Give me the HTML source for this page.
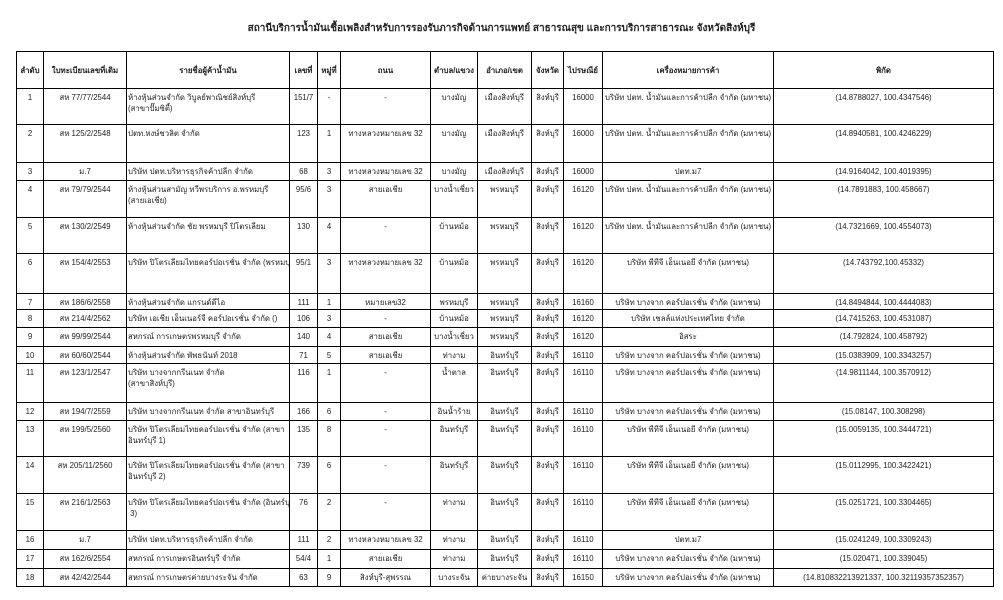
<!DOCTYPE html>
<html><head><meta charset="utf-8"><style>
body{margin:0;width:1003px;height:600px;background:#fff;position:relative;overflow:hidden;font-family:"Liberation Sans","DejaVu Sans",sans-serif;color:#222}
.t{position:absolute;left:0;width:1003px;top:21px;text-align:center;font-size:10px;font-weight:bold}
table{position:absolute;left:16px;top:51px;border-collapse:collapse;table-layout:fixed;width:977px;font-size:7.8px}
td,th{border:1px solid #000;padding:3px 1px 0 1px;vertical-align:top;text-align:center;line-height:11px;overflow:hidden;white-space:nowrap;font-weight:normal}
th{vertical-align:middle;padding:0 1px;font-weight:bold}
td.l{text-align:left}
</style></head><body>
<div class="t">สถานีบริการน้ำมันเชื้อเพลิงสำหรับการรองรับภารกิจด้านการแพทย์ สาธารณสุข และการบริการสาธารณะ จังหวัดสิงห์บุรี</div>
<table>
<colgroup><col style="width:27px"><col style="width:83px"><col style="width:163px"><col style="width:28px"><col style="width:23px"><col style="width:90px"><col style="width:47px"><col style="width:54px"><col style="width:32px"><col style="width:39px"><col style="width:171px"><col style="width:220px"></colgroup>
<tr style="height:37px"><th>ลำดับ</th><th>ใบทะเบียนเลขที่เดิม</th><th>รายชื่อผู้ค้าน้ำมัน</th><th>เลขที่</th><th>หมู่ที่</th><th>ถนน</th><th>ตำบล/แขวง</th><th>อำเภอ/เขต</th><th>จังหวัด</th><th>ไปรษณีย์</th><th>เครื่องหมายการค้า</th><th>พิกัด</th></tr>
<tr style="height:36px"><td>1</td><td>สห 77/77/2544</td><td class="l">ห้างหุ้นส่วนจำกัด วิบูลย์พาณิชย์สิงห์บุรี<br>(สาขาปั๊มซิตี้)</td><td>151/7</td><td>-</td><td>-</td><td>บางมัญ</td><td>เมืองสิงห์บุรี</td><td>สิงห์บุรี</td><td>16000</td><td>บริษัท ปตท. น้ำมันและการค้าปลีก จำกัด (มหาชน)</td><td>(14.8788027, 100.4347546)</td></tr>
<tr style="height:38px"><td>2</td><td>สห 125/2/2548</td><td class="l">ปตท.หงษ์ชวลิต จำกัด</td><td>123</td><td>1</td><td>ทางหลวงหมายเลข 32</td><td>บางมัญ</td><td>เมืองสิงห์บุรี</td><td>สิงห์บุรี</td><td>16000</td><td>บริษัท ปตท. น้ำมันและการค้าปลีก จำกัด (มหาชน)</td><td>(14.8940581, 100.4246229)</td></tr>
<tr style="height:18px"><td>3</td><td>ม.7</td><td class="l">บริษัท ปตท.บริหารธุรกิจค้าปลีก จำกัด</td><td>68</td><td>3</td><td>ทางหลวงหมายเลข 32</td><td>บางมัญ</td><td>เมืองสิงห์บุรี</td><td>สิงห์บุรี</td><td>16000</td><td>ปตท.ม7</td><td>(14.9164042, 100.4019395)</td></tr>
<tr style="height:37px"><td>4</td><td>สห 79/79/2544</td><td class="l">ห้างหุ้นส่วนสามัญ ทวีพรบริการ อ.พรหมบุรี<br>(สายเอเชีย)</td><td>95/6</td><td>3</td><td>สายเอเชีย</td><td>บางน้ำเชี่ยว</td><td>พรหมบุรี</td><td>สิงห์บุรี</td><td>16120</td><td>บริษัท ปตท. น้ำมันและการค้าปลีก จำกัด (มหาชน)</td><td>(14.7891883, 100.458667)</td></tr>
<tr style="height:36px"><td>5</td><td>สห 130/2/2549</td><td class="l">ห้างหุ้นส่วนจำกัด ชัย พรหมบุรี ปิโตรเลียม</td><td>130</td><td>4</td><td>-</td><td>บ้านหม้อ</td><td>พรหมบุรี</td><td>สิงห์บุรี</td><td>16120</td><td>บริษัท ปตท. น้ำมันและการค้าปลีก จำกัด (มหาชน)</td><td>(14.7321669, 100.4554073)</td></tr>
<tr style="height:40px"><td>6</td><td>สห 154/4/2553</td><td class="l">บริษัท ปิโตรเลียมไทยคอร์ปอเรชั่น จำกัด (พรหมบุรี)</td><td>95/1</td><td>3</td><td>ทางหลวงหมายเลข 32</td><td>บ้านหม้อ</td><td>พรหมบุรี</td><td>สิงห์บุรี</td><td>16120</td><td>บริษัท พีทีจี เอ็นเนอยี จำกัด (มหาชน)</td><td>(14.743792,100.45332)</td></tr>
<tr style="height:16px"><td>7</td><td>สห 186/6/2558</td><td class="l">ห้างหุ้นส่วนจำกัด แกรนด์ดีไอ</td><td>111</td><td>1</td><td>หมายเลข32</td><td>พรหมบุรี</td><td>พรหมบุรี</td><td>สิงห์บุรี</td><td>16160</td><td>บริษัท บางจาก คอร์ปอเรชั่น จำกัด (มหาชน)</td><td>(14.8494844, 100.4444083)</td></tr>
<tr style="height:18px"><td>8</td><td>สห 214/4/2562</td><td class="l">บริษัท เอเชีย เอ็นเนอร์จี คอร์ปอเรชั่น จำกัด ()</td><td>106</td><td>3</td><td>-</td><td>บ้านหม้อ</td><td>พรหมบุรี</td><td>สิงห์บุรี</td><td>16120</td><td>บริษัท เชลล์แห่งประเทศไทย จำกัด</td><td>(14.7415263, 100.4531087)</td></tr>
<tr style="height:19px"><td>9</td><td>สห 99/99/2544</td><td class="l">สหกรณ์ การเกษตรพรหมบุรี จำกัด</td><td>140</td><td>4</td><td>สายเอเชีย</td><td>บางน้ำเชี่ยว</td><td>พรหมบุรี</td><td>สิงห์บุรี</td><td>16120</td><td>อิสระ</td><td>(14.792824, 100.458792)</td></tr>
<tr style="height:17px"><td>10</td><td>สห 60/60/2544</td><td class="l">ห้างหุ้นส่วนจำกัด พัพธนันท์ 2018</td><td>71</td><td>5</td><td>สายเอเชีย</td><td>ท่างาม</td><td>อินทร์บุรี</td><td>สิงห์บุรี</td><td>16110</td><td>บริษัท บางจาก คอร์ปอเรชั่น จำกัด (มหาชน)</td><td>(15.0383909, 100.3343257)</td></tr>
<tr style="height:39px"><td>11</td><td>สห 123/1/2547</td><td class="l">บริษัท บางจากกรีนเนท จำกัด<br>(สาขาสิงห์บุรี)</td><td>116</td><td>1</td><td>-</td><td>น้ำตาล</td><td>อินทร์บุรี</td><td>สิงห์บุรี</td><td>16110</td><td>บริษัท บางจาก คอร์ปอเรชั่น จำกัด (มหาชน)</td><td>(14.9811144, 100.3570912)</td></tr>
<tr style="height:18px"><td>12</td><td>สห 194/7/2559</td><td class="l">บริษัท บางจากกรีนเนท จำกัด สาขาอินทร์บุรี</td><td>166</td><td>6</td><td>-</td><td>อินน้ำร้าย</td><td>อินทร์บุรี</td><td>สิงห์บุรี</td><td>16110</td><td>บริษัท บางจาก คอร์ปอเรชั่น จำกัด (มหาชน)</td><td>(15.08147, 100.308298)</td></tr>
<tr style="height:36px"><td>13</td><td>สห 199/5/2560</td><td class="l">บริษัท ปิโตรเลียมไทยคอร์ปอเรชั่น จำกัด (สาขา<br>อินทร์บุรี 1)</td><td>135</td><td>8</td><td>-</td><td>อินทร์บุรี</td><td>อินทร์บุรี</td><td>สิงห์บุรี</td><td>16110</td><td>บริษัท พีทีจี เอ็นเนอยี จำกัด (มหาชน)</td><td>(15.0059135, 100.3444721)</td></tr>
<tr style="height:37px"><td>14</td><td>สห 205/11/2560</td><td class="l">บริษัท ปิโตรเลียมไทยคอร์ปอเรชั่น จำกัด (สาขา<br>อินทร์บุรี 2)</td><td>739</td><td>6</td><td>-</td><td>อินทร์บุรี</td><td>อินทร์บุรี</td><td>สิงห์บุรี</td><td>16110</td><td>บริษัท พีทีจี เอ็นเนอยี จำกัด (มหาชน)</td><td>(15.0112995, 100.3422421)</td></tr>
<tr style="height:37px"><td>15</td><td>สห 216/1/2563</td><td class="l">บริษัท ปิโตรเลียมไทยคอร์ปอเรชั่น จำกัด (อินทร์บุรี<br>&nbsp;3)</td><td>76</td><td>2</td><td>-</td><td>ท่างาม</td><td>อินทร์บุรี</td><td>สิงห์บุรี</td><td>16110</td><td>บริษัท พีทีจี เอ็นเนอยี จำกัด (มหาชน)</td><td>(15.0251721, 100.3304465)</td></tr>
<tr style="height:19px"><td>16</td><td>ม.7</td><td class="l">บริษัท ปตท.บริหารธุรกิจค้าปลีก จำกัด</td><td>111</td><td>2</td><td>ทางหลวงหมายเลข 32</td><td>ท่างาม</td><td>อินทร์บุรี</td><td>สิงห์บุรี</td><td>16110</td><td>ปตท.ม7</td><td>(15.0241249, 100.3309243)</td></tr>
<tr style="height:19px"><td>17</td><td>สห 162/6/2554</td><td class="l">สหกรณ์ การเกษตรอินทร์บุรี จำกัด</td><td>54/4</td><td>1</td><td>สายเอเชีย</td><td>ท่างาม</td><td>อินทร์บุรี</td><td>สิงห์บุรี</td><td>16110</td><td>บริษัท บางจาก คอร์ปอเรชั่น จำกัด (มหาชน)</td><td>(15.020471, 100.339045)</td></tr>
<tr style="height:18px"><td>18</td><td>สห 42/42/2544</td><td class="l">สหกรณ์ การเกษตรค่ายบางระจัน จำกัด</td><td>63</td><td>9</td><td>สิงห์บุรี-สุพรรณ</td><td>บางระจัน</td><td>ค่ายบางระจัน</td><td>สิงห์บุรี</td><td>16150</td><td>บริษัท บางจาก คอร์ปอเรชั่น จำกัด (มหาชน)</td><td>(14.810832213921337, 100.32119357352357)</td></tr>
</table>
</body></html>
